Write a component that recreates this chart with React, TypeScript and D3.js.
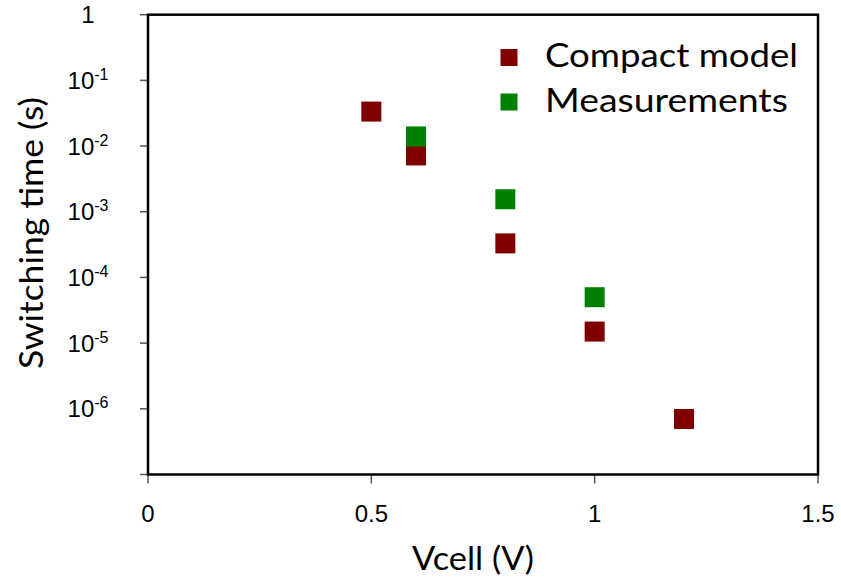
import React from "react";
import * as d3 from "d3";

// Switching time vs. cell voltage
const modelVoltage = [0.5, 0.6, 0.8, 1.0, 1.2];
const modelTime = [3.35e-2, 7.2e-3, 3.3e-4, 1.5e-5, 7.0e-7];

const measVoltage = [0.6, 0.8, 1.0];
const measTime = [1.4e-2, 1.55e-3, 5.0e-5];

const xTicks = [0, 0.5, 1, 1.5];
const xTickLabels = ["0", "0.5", "1", "1.5"];
const yTickExponents = [0, -1, -2, -3, -4, -5, -6, -7];
const yLabelExponents = [0, -1, -2, -3, -4, -5, -6];

const seriesNames = ["Compact model", "Measurements"];
const seriesColors = ["#800000", "#008000"];
const legendTextWidths = [253, 243];

const W = 841;
const H = 578;
const LEFT = 148;
const RIGHT = 818;
const TOP = 14.7;
const BOTTOM = 474.5;

export default function App() {
  const x = d3.scaleLinear().domain([0, 1.5]).range([LEFT, RIGHT]);
  const y = d3.scaleLog().domain([1e-7, 1]).range([BOTTOM, TOP]);

  const markerSize = 20;
  const legendSize = 17;
  const labelFont = "Lato, 'Open Sans', sans-serif";
  const tickFont = "'Liberation Sans', Arial, sans-serif";

  const series = [
    { v: modelVoltage, t: modelTime, color: seriesColors[0] },
    { v: measVoltage, t: measTime, color: seriesColors[1] },
  ];

  return (
    <svg
      width={W}
      height={H}
      style={{ position: "absolute", left: 0, top: 0, background: "#fff" }}
    >
      {/* y ticks */}
      {yTickExponents.map((e) => (
        <line
          key={"yt" + e}
          x1={LEFT - 8}
          x2={LEFT}
          y1={y(Math.pow(10, e))}
          y2={y(Math.pow(10, e))}
          stroke="#555"
          strokeWidth={1.5}
        />
      ))}
      {/* x ticks */}
      {xTicks.map((v) => (
        <line
          key={"xt" + v}
          x1={x(v)}
          x2={x(v)}
          y1={BOTTOM}
          y2={BOTTOM + 9}
          stroke="#555"
          strokeWidth={1.5}
        />
      ))}
      {/* plot frame */}
      <rect
        x={LEFT}
        y={TOP}
        width={RIGHT - LEFT}
        height={BOTTOM - TOP}
        fill="none"
        stroke="#000"
        strokeWidth={2.5}
      />

      {/* y tick labels */}
      {yLabelExponents.map((e) => (
        <text
          key={"yl" + e}
          x={88}
          y={y(Math.pow(10, e)) + 8.5}
          textAnchor="middle"
          fontFamily={tickFont}
          fontSize={24}
          fill="#000"
        >
          {e === 0 ? (
            "1"
          ) : (
            <>
              10
              <tspan fontSize={16} dy={-9}>
                {String(e)}
              </tspan>
            </>
          )}
        </text>
      ))}

      {/* x tick labels */}
      {xTicks.map((v, i) => (
        <text
          key={"xl" + v}
          x={x(v)}
          y={522}
          textAnchor="middle"
          fontFamily={tickFont}
          fontSize={24}
          fill="#000"
        >
          {xTickLabels[i]}
        </text>
      ))}

      {/* axis titles */}
      <text
        x={473}
        y={570}
        textAnchor="middle"
        fontFamily={labelFont}
        fontSize={32}
        textLength={122}
        lengthAdjust="spacingAndGlyphs"
        fill="#000"
      >
        Vcell (V)
      </text>
      <text
        transform={`translate(43, 233) rotate(-90)`}
        textAnchor="middle"
        fontFamily={labelFont}
        fontSize={33}
        textLength={272}
        lengthAdjust="spacingAndGlyphs"
        fill="#000"
      >
        Switching time (s)
      </text>

      {/* data markers */}
      {series.map((s, si) =>
        s.v.map((v, i) => (
          <rect
            key={`m${si}-${i}`}
            x={x(v) - markerSize / 2}
            y={y(s.t[i]) - markerSize / 2}
            width={markerSize}
            height={markerSize}
            fill={s.color}
          />
        ))
      )}

      {/* legend */}
      {seriesNames.map((name, i) => (
        <g key={"lg" + i}>
          <rect
            x={509 - legendSize / 2}
            y={57.5 + i * 44.5 - legendSize / 2}
            width={legendSize}
            height={legendSize}
            fill={seriesColors[i]}
          />
          <text
            x={545}
            y={67 + i * 44.5}
            fontFamily={labelFont}
            fontSize={32}
            textLength={legendTextWidths[i]}
            lengthAdjust="spacingAndGlyphs"
            fill="#000"
          >
            {name}
          </text>
        </g>
      ))}
    </svg>
  );
}
